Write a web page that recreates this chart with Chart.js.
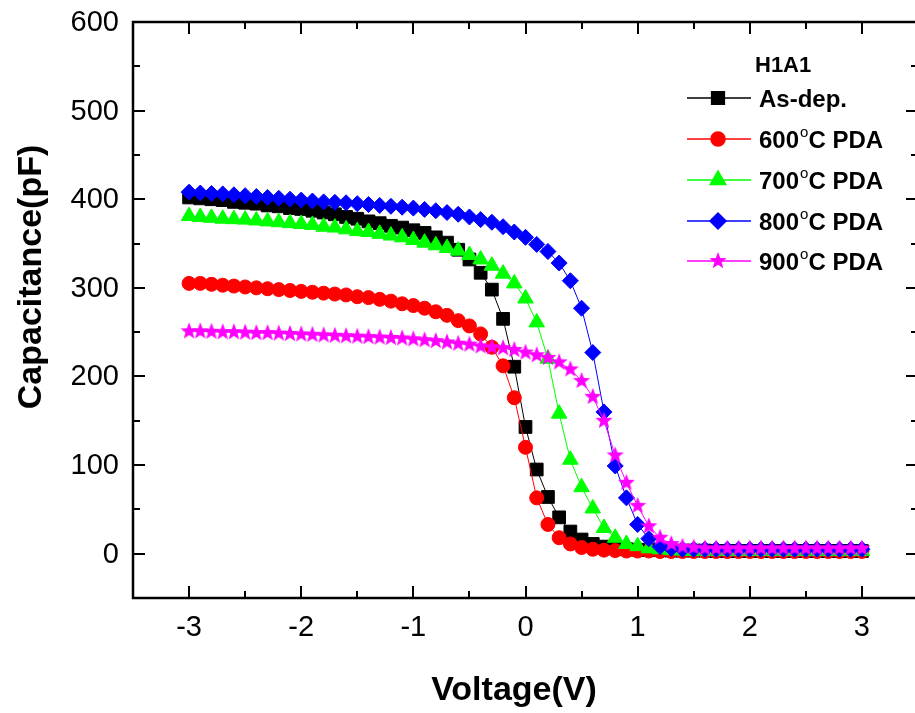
<!DOCTYPE html>
<html>
<head>
    <script src="https://cdn.jsdelivr.net/npm/chart.js"></script>
    <style>
        html, body { margin: 0; padding: 0; background: #fff; overflow: hidden; }
    </style>
</head>
<body>
    <canvas id="cvChart" width="928" height="713"></canvas>

    <script>
        // Gate voltage sweep (V)
        const voltage = [
            -3.0, -2.9, -2.8, -2.7, -2.6, -2.5, -2.4, -2.3, -2.2, -2.1,
            -2.0, -1.9, -1.8, -1.7, -1.6, -1.5, -1.4, -1.3, -1.2, -1.1,
            -1.0, -0.9, -0.8, -0.7, -0.6, -0.5, -0.4, -0.3, -0.2, -0.1,
             0.0,  0.1,  0.2,  0.3,  0.4,  0.5,  0.6,  0.7,  0.8,  0.9,
             1.0,  1.1,  1.2,  1.3,  1.4,  1.5,  1.6,  1.7,  1.8,  1.9,
             2.0,  2.1,  2.2,  2.3,  2.4,  2.5,  2.6,  2.7,  2.8,  2.9,
             3.0
        ];

        // Capacitance (pF)
        const asDep = [
            402, 401, 400, 399, 397, 396, 395, 393, 392, 390,
            389, 387, 385, 383, 380, 378, 375, 373, 370, 368,
            365, 362, 357, 351, 343, 332, 317, 298, 265, 211,
            143, 95, 64, 41, 25, 16, 11, 8, 6, 5,
            4.5, 4, 4, 3.5, 3.5, 3.5, 3.5, 3, 3, 3,
            3, 3, 3, 3, 3, 3, 3, 3, 3, 3,
            3
        ];
        const pda600 = [
            305, 305, 304, 303, 302, 301, 300, 299, 298, 297,
            296, 295, 294, 293, 292, 290, 289, 287, 285, 282,
            280, 277, 273, 269, 263, 257, 248, 233, 212, 176,
            120, 63, 33, 18, 11, 7, 5, 4, 3.5, 3,
            3, 3, 2.5, 2.5, 2.5, 2.5, 2.5, 2.5, 2.5, 2.5,
            2.5, 2.5, 2.5, 2.5, 2.5, 2.5, 2.5, 2.5, 2.5, 2.5,
            2.5
        ];
        const pda700 = [
            381, 380, 379, 378, 377.5, 377, 376, 375, 374, 373,
            372, 371, 369, 368, 366, 364, 363, 361, 359, 357,
            354, 351, 348, 345, 342, 337, 332, 325, 316, 305,
            288, 261, 220, 158, 106, 75, 51, 29, 18, 11,
            8.5, 6, 5, 4, 3.5, 3, 3, 3, 3, 3,
            3, 3, 3, 3, 3, 3, 3, 3, 3, 3,
            3
        ];
        const pda800 = [
            408, 407, 406.5, 406, 405, 404, 403, 402, 401, 400,
            399, 398, 397, 396.5, 396, 395, 394, 393, 392, 391,
            390, 388.5, 387, 385, 383, 380, 377, 374, 369, 363,
            357, 349, 341, 328, 308, 277, 227, 160, 99, 63,
            33, 17, 8, 6, 5, 5, 5, 5, 5, 5,
            5, 5, 5, 5, 5, 5, 5, 5, 5, 5,
            5
        ];
        const pda900 = [
            251, 251, 250.5, 250, 250, 249.5, 249, 249, 248.5, 248,
            247.5, 247, 246.5, 246, 245.5, 245, 244.5, 244, 243.5, 243,
            242, 241, 240, 238.5, 237, 236, 234, 233, 232, 230,
            227, 224, 221, 216, 208, 195, 177, 150, 111, 80,
            54, 31, 18, 11, 8, 7, 6, 6, 6, 6,
            6, 6, 6, 6, 6, 6, 6, 6, 6, 6,
            6
        ];

        const seriesNames = ['As-dep.', '600', '700', '800', '900'];
        const xTicks = [-3, -2, -1, 0, 1, 2, 3];
        const yTicks = [0, 100, 200, 300, 400, 500, 600];

        // filled five point star, Chart.js only has the line asterisk
        function makeStar(color, r) {
            const c = document.createElement('canvas');
            const s = Math.ceil(r * 2 + 2);
            c.width = s; c.height = s;
            const g = c.getContext('2d');
            g.fillStyle = color;
            g.beginPath();
            for (let k = 0; k < 10; k++) {
                const rr = k % 2 === 0 ? r : r * 0.42;
                const a = -Math.PI / 2 + k * Math.PI / 5;
                const px = s / 2 + rr * Math.cos(a), py = s / 2 + rr * Math.sin(a);
                k === 0 ? g.moveTo(px, py) : g.lineTo(px, py);
            }
            g.closePath();
            g.fill();
            return c;
        }
        const star = makeStar('#ff00ff', 9);

        function toPoints(arr) {
            return voltage.map((v, i) => ({ x: v, y: arr[i] }));
        }

        const styles = [
            { color: '#000000', pointStyle: 'rect', radius: 9, order: 5 },
            { color: '#ff0000', pointStyle: 'circle', radius: 7, order: 4 },
            { color: '#00ff00', pointStyle: 'triangle', radius: 9, order: 3 },
            { color: '#0000ff', pointStyle: 'rectRot', radius: 8, order: 2 },
            { color: '#ff00ff', pointStyle: star, radius: 9, order: 1 }
        ];
        const allSeries = [asDep, pda600, pda700, pda800, pda900];

        const datasets = allSeries.map((arr, i) => ({
            label: seriesNames[i],
            data: toPoints(arr),
            borderColor: styles[i].color,
            backgroundColor: styles[i].color,
            borderWidth: 1,
            pointStyle: styles[i].pointStyle,
            pointRadius: styles[i].radius,
            pointBorderWidth: 1,
            pointBorderColor: styles[i].color,
            pointBackgroundColor: styles[i].color,
            order: styles[i].order,
            tension: 0
        }));

        const FONT = '"Liberation Sans", Arial, sans-serif';

        // frame with inward ticks, tick labels, axis titles and the legend box
        const decorations = {
            id: 'decorations',
            afterDraw(chart) {
                const ctx = chart.ctx;
                const a = chart.chartArea;
                const xs = chart.scales.x, ys = chart.scales.y;
                ctx.save();
                ctx.strokeStyle = '#000';
                ctx.lineWidth = 2.5;
                ctx.strokeRect(a.left, a.top, a.right - a.left, a.bottom - a.top);

                ctx.lineWidth = 2;
                ctx.beginPath();
                for (let v = -3; v <= 3.001; v += 0.5) {
                    const px = Math.round(xs.getPixelForValue(v));
                    const len = Math.abs(v % 1) < 0.01 ? 12 : 7;
                    ctx.moveTo(px, a.bottom); ctx.lineTo(px, a.bottom - len);
                    ctx.moveTo(px, a.top); ctx.lineTo(px, a.top + len);
                }
                for (let v = -50; v <= 550; v += 50) {
                    const py = Math.round(ys.getPixelForValue(v));
                    const len = v % 100 === 0 ? 12 : 7;
                    ctx.moveTo(a.left, py); ctx.lineTo(a.left + len, py);
                    ctx.moveTo(a.right, py); ctx.lineTo(a.right - len, py);
                }
                ctx.stroke();

                // tick labels at the scale positions
                ctx.fillStyle = '#000';
                ctx.font = '29px ' + FONT;
                ctx.textBaseline = 'middle';
                ctx.textAlign = 'center';
                xTicks.forEach(v => ctx.fillText(String(v), xs.getPixelForValue(v), 628));
                ctx.textAlign = 'right';
                yTicks.forEach(v => ctx.fillText(String(v), 119, ys.getPixelForValue(v) + 1));

                // axis titles
                ctx.font = 'bold 34px ' + FONT;
                ctx.textAlign = 'center';
                ctx.textBaseline = 'alphabetic';
                ctx.fillText('Voltage(V)', 514, 700);
                ctx.save();
                ctx.translate(41, 277);
                ctx.rotate(-Math.PI / 2);
                ctx.fillText('Capacitance(pF)', 0, 0);
                ctx.restore();

                // legend
                ctx.textAlign = 'left';
                ctx.font = 'bold 22px ' + FONT;
                ctx.fillText('H1A1', 755, 72);
                const rowY = [98, 139, 180, 221, 261];
                chart.data.datasets.forEach((ds, i) => {
                    const y = rowY[i];
                    ctx.strokeStyle = ds.borderColor;
                    ctx.lineWidth = 1.5;
                    ctx.beginPath();
                    ctx.moveTo(687, y); ctx.lineTo(751, y);
                    ctx.stroke();
                    ctx.fillStyle = ds.pointBackgroundColor;
                    Chart.helpers.drawPoint(ctx, {
                        pointStyle: ds.pointStyle,
                        radius: ds.pointRadius,
                        rotation: 0,
                        borderWidth: 1
                    }, 718, y);
                    ctx.fillStyle = '#000';
                    ctx.font = 'bold 24px ' + FONT;
                    const base = y + 9;
                    ctx.fillText(ds.label, 759, base);
                    if (i > 0) {
                        let x = 759 + ctx.measureText(ds.label).width + 1;
                        ctx.font = '15px ' + FONT;
                        ctx.fillText('o', x, base - 11);
                        x += ctx.measureText('o').width;
                        ctx.font = 'bold 24px ' + FONT;
                        ctx.fillText('C PDA', x, base);
                    }
                });
                ctx.restore();
            }
        };

        new Chart(document.getElementById('cvChart'), {
            type: 'line',
            data: { datasets: datasets },
            options: {
                responsive: false,
                animation: false,
                layout: { padding: { top: 22, right: 1, left: 0, bottom: 0 } },
                scales: {
                    x: {
                        type: 'linear',
                        min: -3.5,
                        max: 3.5,
                        grid: { display: false },
                        border: { display: false },
                        ticks: { display: false },
                        afterFit: s => { s.height = 115; }
                    },
                    y: {
                        min: -50,
                        max: 600,
                        grid: { display: false },
                        border: { display: false },
                        ticks: { display: false },
                        afterFit: s => { s.width = 133; }
                    }
                },
                plugins: {
                    legend: { display: false },
                    tooltip: { enabled: false }
                }
            },
            plugins: [decorations]
        });
    </script>
</body>
</html>
